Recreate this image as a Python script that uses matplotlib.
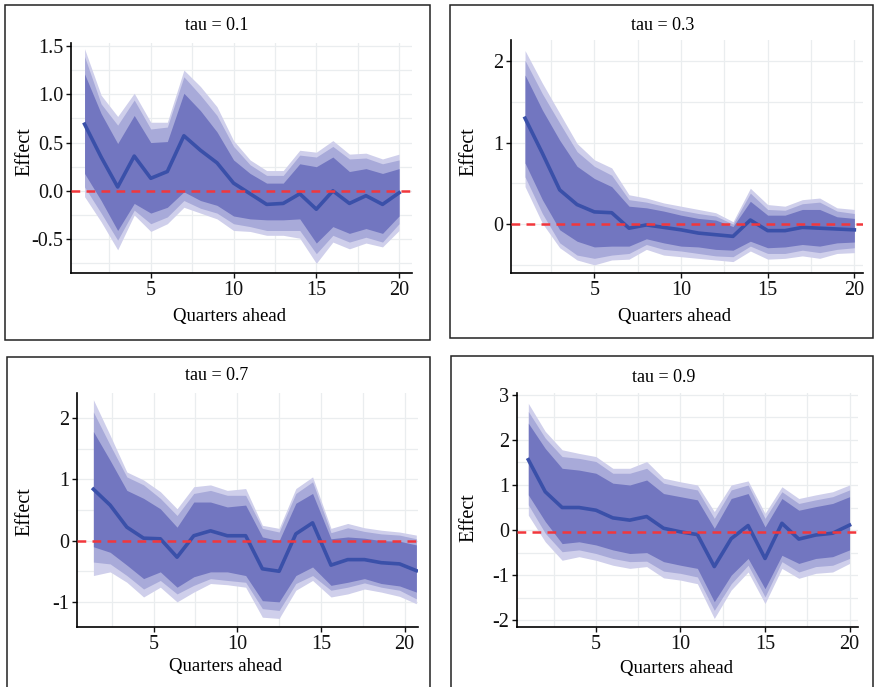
import numpy as np
import matplotlib.pyplot as plt
from matplotlib.patches import Rectangle
from matplotlib.ticker import MultipleLocator, FuncFormatter

plt.rcParams['font.family'] = ['Liberation Serif', 'DejaVu Serif']
plt.rcParams['axes.unicode_minus'] = False

quarters = list(range(1, 21))
# the tau = 0.7 panel is drawn slightly shifted in the original figure
quarters_07 = [1.4, 2.4, 3.4, 4.4, 5.4, 6.4, 7.4, 8.4, 9.4, 10.5,
               11.5, 12.5, 13.5, 14.5, 15.6, 16.6, 17.6, 18.6, 19.7, 20.7]

taus = ['0.1', '0.3', '0.7', '0.9']

# tau = 0.1
mean_01 = [0.69, 0.35, 0.04, 0.36, 0.13, 0.20, 0.57, 0.42, 0.29, 0.08,
           -0.03, -0.14, -0.13, -0.03, -0.19, 0.00, -0.13, -0.05, -0.14, -0.02]
hi_outer_01 = [1.47, 0.99, 0.77, 1.01, 0.71, 0.71, 1.25, 1.08, 0.87, 0.52,
               0.32, 0.21, 0.21, 0.42, 0.40, 0.52, 0.38, 0.39, 0.33, 0.38]
hi_mid_01 = [1.39, 0.90, 0.68, 0.94, 0.64, 0.66, 1.18, 0.99, 0.78, 0.46,
             0.27, 0.16, 0.16, 0.37, 0.35, 0.46, 0.33, 0.34, 0.28, 0.32]
hi_inner_01 = [1.21, 0.80, 0.49, 0.78, 0.50, 0.51, 1.01, 0.83, 0.61, 0.32,
               0.18, 0.08, 0.08, 0.28, 0.25, 0.35, 0.20, 0.23, 0.18, 0.23]
lo_inner_01 = [0.18, -0.10, -0.41, -0.13, -0.23, -0.17, -0.01, -0.10, -0.15, -0.26,
               -0.29, -0.30, -0.30, -0.29, -0.54, -0.37, -0.44, -0.39, -0.44, -0.26]
lo_mid_01 = [0.04, -0.23, -0.51, -0.20, -0.34, -0.27, -0.10, -0.18, -0.23, -0.34,
             -0.37, -0.41, -0.41, -0.41, -0.65, -0.46, -0.53, -0.48, -0.53, -0.34]
lo_outer_01 = [-0.06, -0.32, -0.61, -0.25, -0.42, -0.34, -0.17, -0.23, -0.29, -0.41,
               -0.42, -0.46, -0.46, -0.49, -0.75, -0.53, -0.60, -0.54, -0.58, -0.41]

# tau = 0.3
mean_03 = [1.30, 0.87, 0.42, 0.24, 0.15, 0.14, -0.05, -0.01, -0.04, -0.07,
           -0.11, -0.13, -0.15, 0.05, -0.08, -0.08, -0.04, -0.05, -0.06, -0.07]
hi_outer_03 = [2.13, 1.73, 1.36, 0.99, 0.79, 0.69, 0.36, 0.32, 0.26, 0.22,
               0.18, 0.14, 0.03, 0.44, 0.24, 0.22, 0.30, 0.32, 0.20, 0.18]
hi_mid_03 = [2.01, 1.60, 1.24, 0.89, 0.71, 0.60, 0.30, 0.27, 0.22, 0.17,
             0.13, 0.10, 0.00, 0.38, 0.18, 0.17, 0.25, 0.27, 0.16, 0.13]
hi_inner_03 = [1.83, 1.40, 1.03, 0.71, 0.56, 0.46, 0.22, 0.20, 0.16, 0.11,
               0.07, 0.05, -0.03, 0.28, 0.11, 0.11, 0.18, 0.18, 0.09, 0.07]
lo_inner_03 = [0.75, 0.30, -0.07, -0.21, -0.28, -0.27, -0.27, -0.18, -0.23, -0.27,
               -0.28, -0.31, -0.32, -0.21, -0.29, -0.28, -0.25, -0.27, -0.23, -0.22]
lo_mid_03 = [0.58, 0.13, -0.23, -0.38, -0.42, -0.38, -0.36, -0.25, -0.31, -0.33,
             -0.36, -0.39, -0.40, -0.27, -0.36, -0.36, -0.32, -0.35, -0.31, -0.29]
lo_outer_03 = [0.46, 0.01, -0.29, -0.44, -0.50, -0.44, -0.43, -0.31, -0.38, -0.40,
               -0.42, -0.44, -0.46, -0.33, -0.43, -0.42, -0.39, -0.42, -0.36, -0.35]

# tau = 0.7
mean_07 = [0.84, 0.58, 0.22, 0.04, 0.03, -0.27, 0.08, 0.16, 0.08, 0.08,
           -0.46, -0.50, 0.11, 0.29, -0.40, -0.31, -0.31, -0.36, -0.38, -0.49]
hi_outer_07 = [2.30, 1.72, 1.12, 0.99, 0.80, 0.52, 0.88, 0.91, 0.82, 0.85,
               0.25, 0.20, 0.85, 1.04, 0.20, 0.28, 0.21, 0.17, 0.14, 0.09]
hi_mid_07 = [2.10, 1.56, 1.04, 0.91, 0.69, 0.41, 0.77, 0.82, 0.74, 0.74,
             0.20, 0.14, 0.77, 0.96, 0.13, 0.21, 0.15, 0.11, 0.09, 0.03]
hi_inner_07 = [1.78, 1.31, 0.82, 0.69, 0.52, 0.22, 0.63, 0.63, 0.55, 0.58,
               0.06, 0.00, 0.61, 0.77, 0.03, 0.06, 0.04, 0.00, -0.01, -0.07]
lo_inner_07 = [-0.10, -0.19, -0.40, -0.62, -0.51, -0.76, -0.59, -0.51, -0.51, -0.57,
               -0.98, -1.00, -0.57, -0.43, -0.73, -0.68, -0.62, -0.70, -0.74, -0.84]
lo_mid_07 = [-0.35, -0.38, -0.57, -0.79, -0.65, -0.87, -0.73, -0.62, -0.65, -0.68,
             -1.11, -1.14, -0.70, -0.57, -0.81, -0.76, -0.69, -0.76, -0.81, -0.95]
lo_outer_07 = [-0.57, -0.51, -0.68, -0.92, -0.76, -1.00, -0.84, -0.70, -0.72, -0.76,
               -1.25, -1.27, -0.81, -0.65, -0.92, -0.87, -0.79, -0.84, -0.91, -1.03]

# tau = 0.9
mean_09 = [1.56, 0.85, 0.50, 0.50, 0.44, 0.27, 0.22, 0.30, 0.04, -0.04,
           -0.10, -0.81, -0.19, 0.10, -0.63, 0.15, -0.20, -0.11, -0.07, 0.11]
hi_outer_09 = [2.81, 2.19, 1.78, 1.70, 1.63, 1.37, 1.37, 1.52, 1.15, 1.07,
               1.00, 0.41, 1.00, 1.09, 0.37, 0.96, 0.70, 0.78, 0.85, 1.00]
hi_mid_09 = [2.63, 2.04, 1.63, 1.59, 1.52, 1.26, 1.26, 1.37, 1.04, 0.96,
             0.89, 0.26, 0.89, 1.00, 0.26, 0.85, 0.59, 0.67, 0.74, 0.89]
hi_inner_09 = [2.37, 1.81, 1.37, 1.33, 1.26, 1.04, 1.00, 1.11, 0.81, 0.74,
               0.67, 0.04, 0.70, 0.81, 0.07, 0.70, 0.44, 0.52, 0.59, 0.74]
lo_inner_09 = [0.78, 0.19, -0.30, -0.26, -0.33, -0.44, -0.52, -0.50, -0.70, -0.78,
               -0.85, -1.59, -1.00, -0.63, -1.30, -0.56, -0.74, -0.63, -0.59, -0.44]
lo_mid_09 = [0.56, -0.07, -0.48, -0.44, -0.52, -0.63, -0.70, -0.69, -0.91, -0.96,
             -1.04, -1.78, -1.19, -0.78, -1.48, -0.70, -0.93, -0.81, -0.78, -0.63]
lo_outer_09 = [0.33, -0.26, -0.67, -0.59, -0.67, -0.78, -0.85, -0.81, -1.06, -1.11,
               -1.19, -1.96, -1.33, -0.93, -1.63, -0.85, -1.07, -0.96, -0.93, -0.74]

zero_line = [0.0, 0.0, 0.0, -0.04]
y_ticks = [[-0.5, 0.0, 0.5, 1.0, 1.5], [0, 1, 2], [-1, 0, 1, 2], [-2, -1, 0, 1, 2, 3]]
y_fmt = ['%.1f', '%d', '%d', '%d']

W, H = 876, 687
# pixel boxes: axes (left, top, right, bottom), frame, title, xlabel, ylabel
axes_px = [(71, 43, 412, 273), (511, 40, 863, 273), (77, 393, 418, 627), (517, 393, 858, 627)]
frames_px = [(5, 5, 430, 340), (450, 5, 873, 338), (7, 357, 430, 692), (451, 356, 873, 692)]
title_px = [(217, 25), (663, 25), (217, 376), (664, 377)]
xlab_px = [(229, 317), (675, 317), (225, 667), (676, 668)]
ylab_px = [(25, 152), (469, 152), (25, 512), (469, 518)]
xlims = [(0.18, 20.78), (0.19, 20.5), (0.42, 20.8), (0.33, 20.5)]
ylims = [(-0.85, 1.53), (-0.6, 2.26), (-1.41, 2.41), (-2.15, 3.04)]

panels = [
    (quarters, mean_01, (lo_outer_01, hi_outer_01), (lo_mid_01, hi_mid_01), (lo_inner_01, hi_inner_01)),
    (quarters, mean_03, (lo_outer_03, hi_outer_03), (lo_mid_03, hi_mid_03), (lo_inner_03, hi_inner_03)),
    (quarters_07, mean_07, (lo_outer_07, hi_outer_07), (lo_mid_07, hi_mid_07), (lo_inner_07, hi_inner_07)),
    (quarters, mean_09, (lo_outer_09, hi_outer_09), (lo_mid_09, hi_mid_09), (lo_inner_09, hi_inner_09)),
]
band_colors = ['#cfcfeb', '#a8aad9', '#7276c0']

fig = plt.figure(figsize=(W / 100, H / 100), dpi=100)

for i, (x, mean, outer, mid, inner) in enumerate(panels):
    l, t, r, b = axes_px[i]
    ax = fig.add_axes([l / W, 1 - b / H, (r - l) / W, (b - t) / H])

    for (lo, hi), c in zip([outer, mid, inner], band_colors):
        ax.fill_between(x, lo, hi, color=c, linewidth=0, zorder=2)
    ax.plot(x, mean, color='#3a50a9', linewidth=2.6, zorder=3)
    ax.axhline(zero_line[i], color='#f2373c', linewidth=1.8, dashes=(3.5, 2.5), zorder=4)

    ax.set_xlim(*xlims[i])
    ax.set_ylim(*ylims[i])
    ax.set_xticks([5, 10, 15, 20])
    ax.xaxis.set_minor_locator(MultipleLocator(2.5))
    ax.set_yticks(y_ticks[i])
    step = y_ticks[i][1] - y_ticks[i][0]
    ax.yaxis.set_minor_locator(MultipleLocator(step / 2))
    fmt = y_fmt[i]
    ax.yaxis.set_major_formatter(FuncFormatter(lambda v, p, f=fmt: f % v))
    ax.grid(True, which='both', color='#eaedef', linewidth=0.9, zorder=0)
    ax.set_axisbelow(True)
    for s in ['top', 'right']:
        ax.spines[s].set_visible(False)
    for s in ['left', 'bottom']:
        ax.spines[s].set_linewidth(1.2)
    ax.tick_params(which='major', length=3.5, width=1.0, labelsize=14.5, pad=2, colors='#111111')
    ax.tick_params(which='minor', length=0)

    fl, ft, fr, fb = frames_px[i]
    fig.patches.append(Rectangle((fl / W, 1 - fb / H), (fr - fl) / W, (fb - ft) / H,
                                 transform=fig.transFigure, fill=False,
                                 edgecolor='#222222', linewidth=1.1))
    fig.text(title_px[i][0] / W, 1 - title_px[i][1] / H, 'tau = ' + taus[i],
             ha='center', va='center', fontsize=13)
    fig.text(xlab_px[i][0] / W, 1 - xlab_px[i][1] / H, 'Quarters ahead',
             ha='center', va='center', fontsize=13.5)
    fig.text(ylab_px[i][0] / W, 1 - ylab_px[i][1] / H, 'Effect',
             ha='center', va='center', rotation=90, fontsize=14.5)

fig.savefig('out.png', dpi=100)
